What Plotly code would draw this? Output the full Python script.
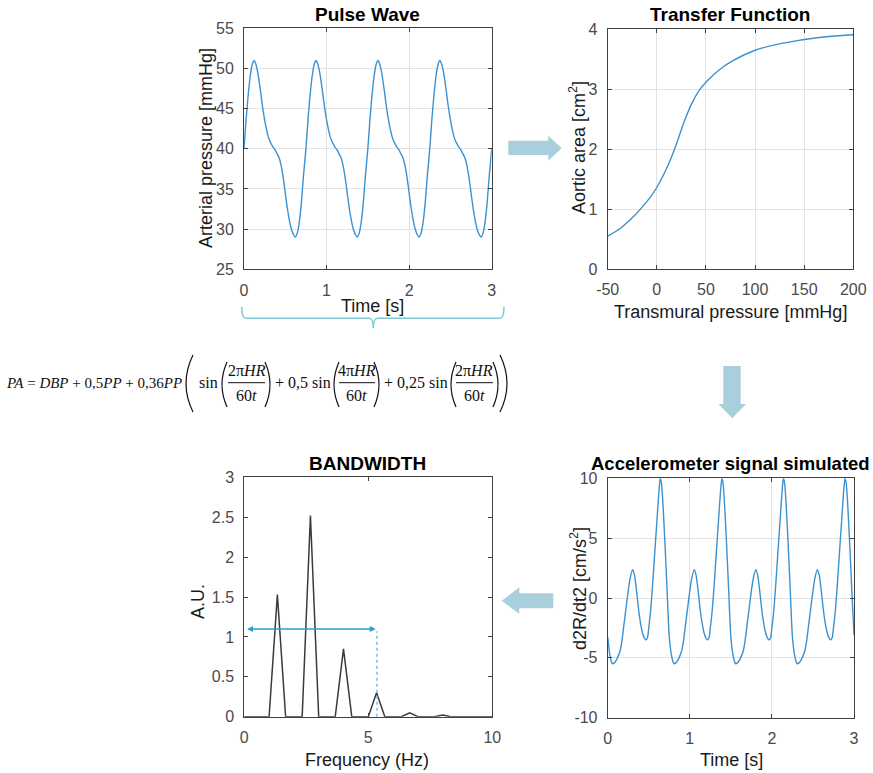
import plotly.graph_objects as go

# ---------------- data ----------------
PERIOD = 0.75
N_PERIODS = 4

# Pulse wave, one period (time offset in s, pressure in mmHg)
pulse_t_period = [0, 0.025, 0.05, 0.075, 0.10, 0.122, 0.145, 0.165, 0.185, 0.205, 0.225,
                  0.25, 0.275, 0.30, 0.325, 0.35, 0.375, 0.40, 0.425, 0.45, 0.475, 0.50,
                  0.525, 0.55, 0.575, 0.60, 0.62, 0.645, 0.67, 0.695, 0.72]
pulse_v_period = [40.0, 43.6, 46.6, 49.0, 50.5, 51.0, 50.5, 49.6, 48.3, 46.8, 45.2,
                  43.6, 42.3, 41.3, 40.7, 40.25, 39.9, 39.4, 38.9, 37.9, 36.4, 34.5,
                  32.6, 31.1, 29.95, 29.3, 29.0, 29.5, 30.9, 33.3, 36.6]
pulse_end = 40.0

# Transfer function (transmural pressure mmHg -> aortic area cm^2)
tf_pressure = [-50, -37, -24, -14, -7, 0, 10, 18.5, 27, 35.5, 44, 50.7, 64, 78, 100, 129, 163, 200]
tf_area = [0.55, 0.68, 0.87, 1.05, 1.19, 1.36, 1.68, 2.02, 2.42, 2.76, 3.0, 3.13, 3.33, 3.48,
           3.65, 3.77, 3.86, 3.91]

# Accelerometer signal, one period (time offset in s, cm/s^2)
acc_t_period = [0, 0.025, 0.05, 0.061, 0.08, 0.10, 0.125, 0.15, 0.175, 0.20, 0.225, 0.25,
                0.275, 0.304, 0.325, 0.35, 0.375, 0.40, 0.425, 0.45, 0.466, 0.485, 0.50,
                0.525, 0.55, 0.575, 0.60, 0.625, 0.64, 0.655, 0.675, 0.70, 0.725]
acc_v_period = [-3.26, -4.7, -5.4, -5.5, -5.42, -5.25, -4.9, -4.45, -3.5, -2.1, -0.75, 0.6,
                1.7, 2.37, 1.95, 0.7, -0.9, -2.1, -2.95, -3.4, -3.5, -3.3, -2.5,
                -0.9, 1.4, 4.0, 6.5, 9.0, 10.0, 9.6, 7.6, 4.2, 0.4]
acc_end = -3.1

# Spectrum (bins of 1/3 Hz)
spec_freq = [k / 3 for k in range(31)]
spec_amp = [0, 0, 0, 0, 1.53, 0, 0, 0, 2.52, 0, 0, 0, 0.85, 0, 0, 0, 0.30, 0, 0, 0,
            0.05, 0, 0, 0, 0.02, 0, 0, 0, 0, 0, 0]
bandwidth_limit = 5.35
bandwidth_level = 1.1

# Tick values
pulse_xticks = [0, 1, 2, 3]
pulse_yticks = [25, 30, 35, 40, 45, 50, 55]
tf_xticks = [-50, 0, 50, 100, 150, 200]
tf_yticks = [0, 1, 2, 3, 4]
spec_xticks = [0, 5, 10]
spec_yticks = [0, 0.5, 1, 1.5, 2, 2.5, 3]
acc_xticks = [0, 1, 2, 3]
acc_yticks = [-10, -5, 0, 5, 10]

# tile periodic readings
pulse_t, pulse_v, acc_t, acc_v = [], [], [], []
for k in range(N_PERIODS):
    pulse_t += [k * PERIOD + t for t in pulse_t_period]
    pulse_v += pulse_v_period
    acc_t += [k * PERIOD + t for t in acc_t_period]
    acc_v += acc_v_period
pulse_t.append(N_PERIODS * PERIOD); pulse_v.append(pulse_end)
acc_t.append(N_PERIODS * PERIOD); acc_v.append(acc_end)

# ---------------- layout helpers ----------------
W, H = 873, 773
def px(x): return x / W
def py(y): return 1 - y / H

SANS = "Arial, Liberation Sans, sans-serif"
SERIF = "Liberation Serif, Times New Roman, serif"
LINE_BLUE = "#3b92d0"
AX = "#404040"

fig = go.Figure()
fig.add_trace(go.Scatter(x=pulse_t, y=pulse_v, mode="lines", line=dict(color=LINE_BLUE, width=1.4, shape="spline", smoothing=0.6),
                         xaxis="x", yaxis="y", showlegend=False))
fig.add_trace(go.Scatter(x=tf_pressure, y=tf_area, mode="lines", line=dict(color=LINE_BLUE, width=1.4, shape="spline", smoothing=1.0),
                         xaxis="x2", yaxis="y2", showlegend=False))
fig.add_trace(go.Scatter(x=spec_freq, y=spec_amp, mode="lines", line=dict(color="#3a3a3a", width=1.5),
                         xaxis="x3", yaxis="y3", showlegend=False))
fig.add_trace(go.Scatter(x=[bandwidth_limit, bandwidth_limit], y=[0, bandwidth_level - 0.03], mode="lines",
                         line=dict(color="#6cc3dc", width=1.5, dash="dot"), xaxis="x3", yaxis="y3", showlegend=False))
fig.add_trace(go.Scatter(x=acc_t, y=acc_v, mode="lines", line=dict(color=LINE_BLUE, width=1.4, shape="spline", smoothing=0.6),
                         xaxis="x4", yaxis="y4", showlegend=False))

def axis(domain, rng, ticks, anchor, grid=True, is_x=True):
    return dict(domain=domain, range=rng, tickvals=ticks, ticktext=[str(t) for t in ticks],
                anchor=anchor, showline=True, linecolor=AX, linewidth=1, mirror="ticks",
                ticks="inside", ticklen=4, tickcolor=AX, zeroline=False, automargin=False,
                showgrid=grid, gridcolor="#e2e2e2", gridwidth=1, fixedrange=True,
                tickfont=dict(family=SANS, size=16, color="#4a4a4a"),
                ticklabelstandoff=6 if is_x else 6)

fig.update_layout(
    width=W, height=H, autosize=False,
    margin=dict(l=0, r=0, t=0, b=0, pad=0),
    paper_bgcolor="white", plot_bgcolor="white",
    xaxis=axis([px(244), px(491.7)], [0, 3], pulse_xticks, "y"),
    yaxis=axis([py(269.3), py(28.3)], [25, 55], pulse_yticks, "x", is_x=False),
    xaxis2=axis([px(607.7), px(853.3)], [-50, 200], tf_xticks, "y2"),
    yaxis2=axis([py(269), py(29.3)], [0, 4], tf_yticks, "x2", is_x=False),
    xaxis3=axis([px(244.3), px(492.3)], [0, 10], spec_xticks, "y3", grid=False),
    yaxis3=axis([py(716.7), py(477.3)], [0, 3], spec_yticks, "x3", grid=False, is_x=False),
    xaxis4=axis([px(607.7), px(854)], [0, 3], acc_xticks, "y4"),
    yaxis4=axis([py(717.7), py(478.3)], [-10, 10], acc_yticks, "x4", is_x=False),
)

ann = []
def text(s, x, y, size, bold=False, angle=0, family=SANS, color="#1a1a1a", xanchor="center"):
    ann.append(dict(text=f"<b>{s}</b>" if bold else s, x=px(x), y=py(y), xref="paper", yref="paper",
                    xanchor=xanchor, yanchor="middle", showarrow=False, textangle=angle,
                    font=dict(family=family, size=size, color=color)))

# titles
text("Pulse Wave", 367.5, 14, 19, bold=True, color="black")
text("Transfer Function", 730, 14, 19, bold=True, color="black")
text("BANDWIDTH", 367.5, 463, 19, bold=True, color="black")
text("Accelerometer signal simulated", 730, 463, 18.5, bold=True, color="black")
# axis labels
text("Arterial pressure [mmHg]", 206, 148, 18, angle=-90)
text("Time [s]", 372, 306, 18)
text("Aortic area [cm<sup>2</sup>]", 577, 148, 18, angle=-90)
text("Transmural pressure [mmHg]", 730, 312, 18)
text("A.U.", 198, 602, 18, angle=-90)
text("Frequency (Hz)", 367, 760, 18)
text("d2R/dt2 [cm/s<sup>2</sup>]", 578, 589, 18, angle=-90)
text("Time [s]", 731, 760, 18)

# formula
FS = 16
FC = "#111111"
text("<i>PA</i> = <i>DBP</i> + 0,5<i>PP</i> + 0,36<i>PP</i>", 4, 383, 15, family=SERIF, color=FC, xanchor="left")
text("sin", 208, 383, FS, family=SERIF, color=FC)
text("+ 0,5 sin", 303, 383, FS, family=SERIF, color=FC)
text("+ 0,25 sin", 416, 383, FS, family=SERIF, color=FC)
fracs = [("2π<i>HR</i>", 246.5, 228, 265), ("4π<i>HR</i>", 356.5, 339, 375), ("2π<i>HR</i>", 474.5, 456, 493)]
shapes = []
for num, cx, x0, x1 in fracs:
    text(num, cx, 371, FS, family=SERIF, color=FC)
    text("60<i>t</i>", cx, 395, FS, family=SERIF, color=FC)
    shapes.append(dict(type="line", xref="paper", yref="paper", x0=px(x0), x1=px(x1), y0=py(382.7), y1=py(382.7),
                       line=dict(color=FC, width=1)))

def paren(xl, xr, ytop, ybot, left=True, width=1.2):
    ym = (ytop + ybot) / 2
    if left:
        p = f"M {px(xr)},{py(ytop)} Q {px(xl - (xr - xl))},{py(ym)} {px(xr)},{py(ybot)}"
    else:
        p = f"M {px(xl)},{py(ytop)} Q {px(xr + (xr - xl))},{py(ym)} {px(xl)},{py(ybot)}"
    shapes.append(dict(type="path", path=p, xref="paper", yref="paper", line=dict(color=FC, width=width)))

paren(186, 193, 355, 412, left=True)
paren(222, 227, 362, 407, left=True)
paren(265, 270, 362, 407, left=False)
paren(334, 339, 362, 407, left=True)
paren(374, 379, 362, 407, left=False)
paren(451, 456, 362, 407, left=True)
paren(493, 498, 362, 407, left=False)
paren(500, 507, 355, 412, left=False)

# brace under pulse wave
brace = (f"M {px(241.7)},{py(306.7)} Q {px(241.7)},{py(318.3)} {px(246)},{py(318.3)} "
         f"L {px(369)},{py(318.3)} Q {px(373.3)},{py(318.3)} {px(373.3)},{py(328.3)} "
         f"Q {px(373.3)},{py(318.3)} {px(377.6)},{py(318.3)} L {px(500)},{py(318.3)} "
         f"Q {px(504)},{py(318.3)} {px(504)},{py(306.7)}")
shapes.append(dict(type="path", path=brace, xref="paper", yref="paper", line=dict(color="#7cc8d8", width=1.5)))

# block arrows
ARROW = "#a9cfdd"
def poly(pts):
    p = "M " + " L ".join(f"{px(x)},{py(y)}" for x, y in pts) + " Z"
    shapes.append(dict(type="path", path=p, xref="paper", yref="paper", fillcolor=ARROW, line=dict(width=0)))

poly([(508.3, 140.7), (548.3, 140.7), (548.3, 135.7), (561.7, 148.3), (548.3, 160.7), (548.3, 155), (508.3, 155)])
poly([(723.3, 366), (740.7, 366), (740.7, 404), (746, 404), (732.3, 418.3), (718.3, 404), (723.3, 404)])
poly([(553.3, 593.3), (519.3, 593.3), (519.3, 587.3), (501.7, 600.7), (519.3, 614), (519.3, 608.3), (553.3, 608.3)])

# bandwidth double arrow
ann.append(dict(x=bandwidth_limit - 0.05, y=bandwidth_level, ax=0.05, ay=bandwidth_level, xref="x3", yref="y3",
                axref="x3", ayref="y3", text="", showarrow=True, arrowhead=2, arrowside="end+start",
                arrowsize=0.8, arrowwidth=1.5, arrowcolor="#2aa0c8", standoff=0, startstandoff=0))

fig.update_layout(annotations=ann, shapes=shapes)
fig.write_html("out.html", config={"displayModeBar": False},
               post_script="document.body.style.margin='0';document.body.style.overflow='hidden';")
